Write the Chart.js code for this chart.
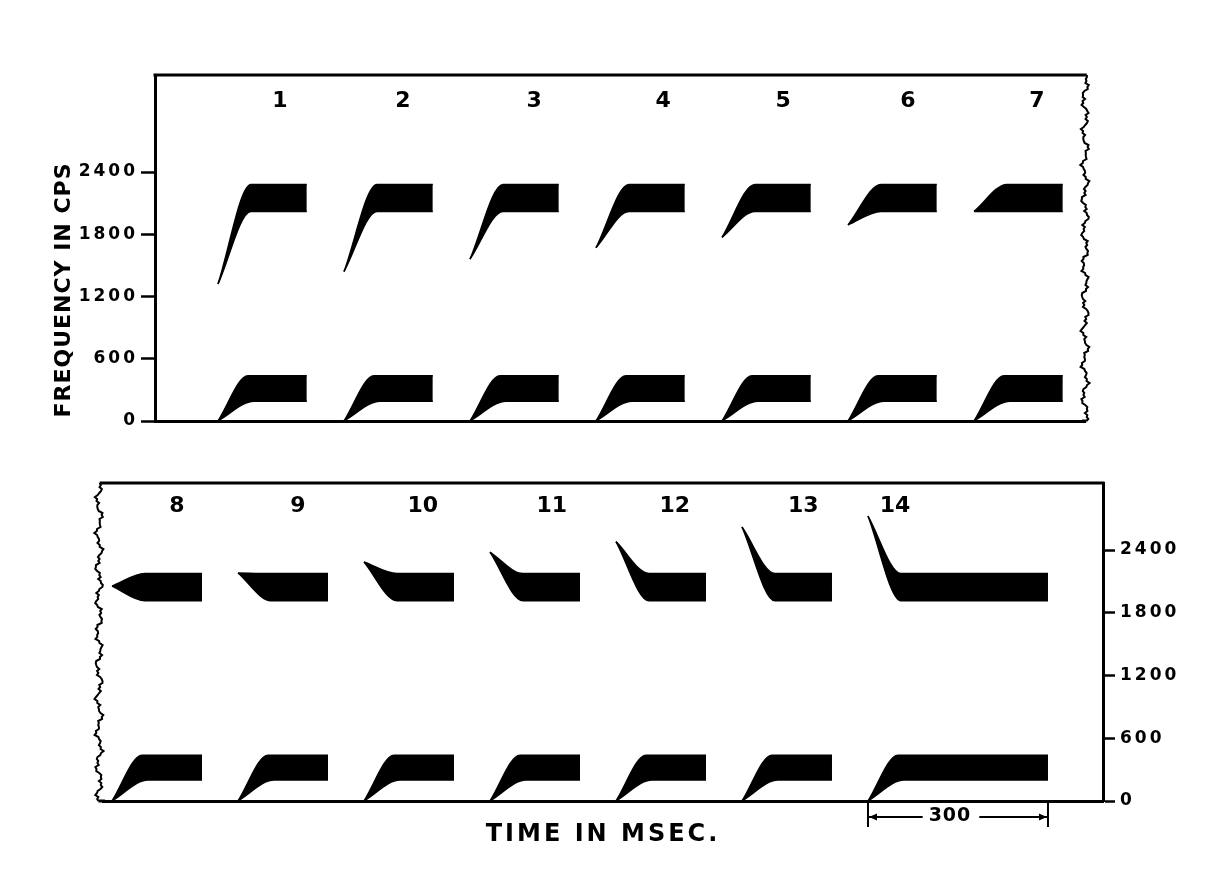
<!DOCTYPE html>
<html>
<head>
<meta charset="utf-8">
<script src="https://cdn.jsdelivr.net/npm/chart.js@4/dist/chart.umd.min.js"></script>
<style>
  html, body { margin: 0; padding: 0; background: #fff; }
  #wrap { position: relative; width: 1208px; height: 890px; overflow: hidden; }
  #c1 { position: absolute; left: 0; top: 0; }
  #c2 { position: absolute; left: 0; top: 450px; }
</style>
</head>
<body>
<div id="wrap">
  <canvas id="c1" width="1208" height="450"></canvas>
  <canvas id="c2" width="1208" height="440"></canvas>
</div>
<script>
// ---------- Upper panel: patterns 1-7 ----------
const topLabels      = ['1', '2', '3', '4', '5', '6', '7'];
const topLabelMs     = [208, 413, 632, 847, 1047, 1255, 1470];
const topOnsetMs     = [105, 315, 525, 735, 945, 1155, 1365];
const topDurMs       = [148, 148, 148, 148, 148, 148, 148];
const topF2OnsetHz   = [1320, 1440, 1560, 1670, 1770, 1890, 2020];
const topF2SteadyHz  = [2020, 2280];   // lower edge, upper edge
const topF1SteadyHz  = [190, 435];

// ---------- Lower panel: patterns 8-14 ----------
const botLabels      = ['8', '9', '10', '11', '12', '13', '14'];
const botLabelMs     = [123, 325, 533, 748, 953, 1167, 1320];
const botOnsetMs     = [15, 225, 435, 645, 855, 1065, 1275];
const botDurMs       = [150, 150, 150, 150, 150, 150, 300];
const botF2OnsetHz   = [2055, 2180, 2285, 2380, 2480, 2620, 2725];
const botF2SteadyHz  = [1915, 2175];
const botF1SteadyHz  = [200, 438];

// ---------- shared ----------
const f1OnsetHz   = 0;
const transMs     = { f2Upper: 55, f2Lower: 55, f1Upper: 50, f1Lower: 60 };
const freqTicks   = [0, 600, 1200, 1800, 2400];
const scaleBarMs  = 300;
const yTitle      = 'FREQUENCY IN CPS';
const xTitle      = 'TIME IN MSEC.';

const FONT = "'DejaVu Sans', 'Liberation Sans', sans-serif";
Chart.defaults.font.family = FONT;
Chart.defaults.font.weight = 'bold';
Chart.defaults.color = '#000';

function bandEdge(data, fill) {
  return { data, fill, borderColor: '#000', backgroundColor: '#000', borderWidth: 1.5,
           pointRadius: 0, pointHoverRadius: 0, cubicInterpolationMode: 'monotone' };
}
function formantDatasets(onsets, durs, f2On, f2Band, f1Band) {
  const ds = [];
  onsets.forEach((t0, i) => {
    const d = durs[i];
    const edge = (f0, fs, k) => [{ x: t0, y: f0 }, { x: t0 + k, y: fs }, { x: t0 + d, y: fs }];
    ds.push(bandEdge(edge(f2On[i], f2Band[1], transMs.f2Upper), '+1'));
    ds.push(bandEdge(edge(f2On[i], f2Band[0], transMs.f2Lower), false));
    ds.push(bandEdge(edge(f1OnsetHz, f1Band[1], transMs.f1Upper), '+1'));
    ds.push(bandEdge(edge(f1OnsetHz, f1Band[0], transMs.f1Lower), false));
  });
  return ds;
}

// torn-paper edge wiggle (decoration only)
function tornEdge(s) {
  return 2.4 * Math.sin(s * 0.19) + 1.5 * Math.sin(s * 0.53 + 1.3) + 1.0 * Math.sin(s * 1.37 + 0.4);
}

const spacing = { id: 'spacing', beforeDraw(chart) { chart.ctx.letterSpacing = '3px'; } };

function yScale(position, max, width) {
  return {
    type: 'linear', position, min: 0, max,
    afterBuildTicks: s => { s.ticks = freqTicks.map(v => ({ value: v })); },
    afterFit: s => { s.width = width; },
    ticks: { font: { size: 17, weight: 'bold' }, color: '#000', padding: position === 'left' ? 3 : 5,
             callback: v => String(v) },
    grid: { display: true, drawOnChartArea: false, drawTicks: true, tickLength: position === 'left' ? 14 : 12,
            tickWidth: 2.5, tickColor: '#000' },
    border: { display: true, width: 3, color: '#000' }
  };
}

const topDecor = {
  id: 'topDecor',
  afterDraw(chart) {
    const { ctx, chartArea: a, scales: { x } } = chart;
    ctx.save();
    ctx.strokeStyle = '#000'; ctx.fillStyle = '#000';
    ctx.lineWidth = 3;
    ctx.beginPath();
    ctx.moveTo(a.left - 1.5, a.top); ctx.lineTo(a.right + tornEdge(0), a.top);
    ctx.moveTo(a.right - 3, a.bottom); ctx.lineTo(a.right + tornEdge(a.bottom - a.top), a.bottom);
    ctx.stroke();
    ctx.lineWidth = 2;
    ctx.beginPath();
    for (let y = a.top; y <= a.bottom; y += 2) {
      const xx = a.right + tornEdge(y - a.top);
      if (y === a.top) ctx.moveTo(xx, y); else ctx.lineTo(xx, y);
    }
    ctx.stroke();
    ctx.letterSpacing = '0px';
    ctx.font = "bold 22px " + FONT;
    ctx.textAlign = 'center'; ctx.textBaseline = 'middle';
    topLabels.forEach((s, i) => ctx.fillText(s, x.getPixelForValue(topLabelMs[i]), a.top + 26));
    ctx.translate(a.left - 91, (a.top + a.bottom) / 2 + 42);
    ctx.rotate(-Math.PI / 2);
    ctx.font = "bold 22px " + FONT;
    ctx.letterSpacing = '1px';
    ctx.fillText(yTitle, 0, 0);
    ctx.restore();
  }
};

const botDecor = {
  id: 'botDecor',
  afterDraw(chart) {
    const { ctx, chartArea: a, scales: { x } } = chart;
    ctx.save();
    ctx.strokeStyle = '#000'; ctx.fillStyle = '#000';
    const lx = s => a.left - 4 + tornEdge(s + 40);
    ctx.lineWidth = 3;
    ctx.beginPath();
    ctx.moveTo(lx(0), a.top); ctx.lineTo(a.right + 1.5, a.top);
    ctx.moveTo(lx(a.bottom - a.top), a.bottom); ctx.lineTo(a.left + 2, a.bottom);
    ctx.stroke();
    ctx.lineWidth = 2;
    ctx.beginPath();
    for (let y = a.top; y <= a.bottom; y += 2) {
      const xx = lx(y - a.top);
      if (y === a.top) ctx.moveTo(xx, y); else ctx.lineTo(xx, y);
    }
    ctx.stroke();
    ctx.letterSpacing = '0px';
    ctx.font = "bold 22px " + FONT;
    ctx.textAlign = 'center'; ctx.textBaseline = 'middle';
    botLabels.forEach((s, i) => ctx.fillText(s, x.getPixelForValue(botLabelMs[i]), a.top + 23));

    // 300 ms scale bar under pattern 14
    const last = botOnsetMs.length - 1;
    const x1 = x.getPixelForValue(botOnsetMs[last]);
    const x2 = x.getPixelForValue(botOnsetMs[last] + scaleBarMs);
    const ym = a.bottom + 16;
    ctx.lineWidth = 2;
    ctx.beginPath();
    ctx.moveTo(x1, a.bottom); ctx.lineTo(x1, a.bottom + 26);
    ctx.moveTo(x2, a.bottom); ctx.lineTo(x2, a.bottom + 26);
    ctx.stroke();
    ctx.font = "bold 19px " + FONT;
    ctx.letterSpacing = '1px';
    const label = String(scaleBarMs);
    const mid = (x1 + x2) / 2 - 8;
    const tw = ctx.measureText(label).width;
    ctx.beginPath();
    ctx.moveTo(x1, ym); ctx.lineTo(mid - tw / 2 - 6, ym);
    ctx.moveTo(mid + tw / 2 + 8, ym); ctx.lineTo(x2, ym);
    ctx.stroke();
    ctx.beginPath();
    ctx.moveTo(x1 + 1, ym); ctx.lineTo(x1 + 9, ym - 3.5); ctx.lineTo(x1 + 9, ym + 3.5); ctx.closePath();
    ctx.moveTo(x2 - 1, ym); ctx.lineTo(x2 - 9, ym - 3.5); ctx.lineTo(x2 - 9, ym + 3.5); ctx.closePath();
    ctx.fill();
    ctx.fillText(label, mid, ym - 1);
    ctx.restore();
  }
};

const common = {
  responsive: false, animation: false, devicePixelRatio: 1, events: [],
  plugins: { legend: { display: false }, tooltip: { enabled: false } }
};

new Chart(document.getElementById('c1'), {
  type: 'line',
  data: { datasets: formantDatasets(topOnsetMs, topDurMs, topF2OnsetHz, topF2SteadyHz, topF1SteadyHz) },
  options: Object.assign({}, common, {
    layout: { padding: { top: 75, right: 123, left: 0, bottom: 0 } },
    scales: {
      x: { type: 'linear', min: 0, max: 1550, ticks: { display: false }, grid: { display: false },
           border: { display: true, width: 3, color: '#000' }, afterFit: s => { s.height = 29; } },
      y: yScale('left', 3335, 155)
    }
  }),
  plugins: [spacing, topDecor]
});

new Chart(document.getElementById('c2'), {
  type: 'line',
  data: { datasets: formantDatasets(botOnsetMs, botDurMs, botF2OnsetHz, botF2SteadyHz, botF1SteadyHz) },
  options: Object.assign({}, common, {
    layout: { padding: { top: 33, right: 0, left: 103, bottom: 0 } },
    scales: {
      x: { type: 'linear', min: 0, max: 1666.7, ticks: { display: false }, grid: { display: false },
           border: { display: true, width: 3, color: '#000' }, afterFit: s => { s.height = 89; },
           title: { display: true, text: xTitle, color: '#000', font: { size: 24, weight: 'bold' },
                    padding: { top: 0, bottom: 41 } } },
      y: yScale('right', 3041, 105)
    }
  }),
  plugins: [spacing, botDecor]
});
</script>
</body>
</html>
